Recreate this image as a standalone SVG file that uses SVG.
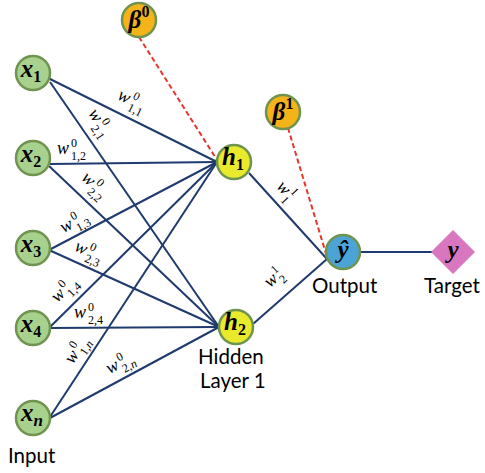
<svg xmlns="http://www.w3.org/2000/svg" width="485" height="473" viewBox="0 0 485 473">
<style>
.e{stroke:#1f3a6e;stroke-width:2;fill:none}
.b{stroke:#e8342a;stroke-width:2;stroke-dasharray:5,3;fill:none}
.n{stroke:#6f9450;stroke-width:2.5}
.in{fill:#a9d18e}
.hd{fill:#eaea2c}
.bi{fill:#f5b31a}
.ou{fill:#4ba3d6}
.lab{font-family:"Liberation Serif",serif;font-style:italic;font-weight:bold;font-size:25px;fill:#000}
.d{font-style:normal;font-size:16px}
.di{font-style:italic;font-size:17px}
.w{font-family:"Liberation Serif",serif;font-style:italic;font-size:18px;fill:#000}
.s{font-size:12px;font-style:normal}
.si{font-style:italic}
.t{font-family:Lato,"Liberation Sans",sans-serif;font-size:20.5px;fill:#000}
</style>
<g id="connectors">
<line class="e" x1="48" y1="78" x2="217" y2="162"/>
<line class="e" x1="50" y1="82" x2="219" y2="327"/>
<line class="e" x1="50" y1="164" x2="217" y2="162"/>
<line class="e" x1="49" y1="166" x2="219" y2="327"/>
<line class="e" x1="49" y1="250" x2="217" y2="162"/>
<line class="e" x1="49" y1="250" x2="219" y2="327"/>
<line class="e" x1="49" y1="328" x2="217" y2="162"/>
<line class="e" x1="49" y1="328" x2="219" y2="327"/>
<line class="e" x1="48" y1="420" x2="217" y2="162"/>
<line class="e" x1="50" y1="418" x2="219" y2="327"/>
<line class="e" x1="249" y1="173" x2="327" y2="259"/>
<line class="e" x1="253" y1="324" x2="327" y2="259"/>
<line class="e" x1="360" y1="252" x2="432" y2="252"/>
<line class="b" x1="139" y1="37" x2="217" y2="160"/>
<line class="b" x1="288" y1="128" x2="327" y2="257"/>
</g>
<g id="weights">
<text class="w" transform="translate(130,103) rotate(26)" x="-14" y="2">w<tspan class="s" x="0" y="-5">0</tspan><tspan class="s" x="0" y="8">1,1</tspan></text>
<text class="w" transform="translate(97,124) rotate(57)" x="-14" y="2">w<tspan class="s" x="0" y="-5">0</tspan><tspan class="s" x="0" y="8">2,1</tspan></text>
<text class="w" transform="translate(72,152)" x="-15" y="2">w<tspan class="s" x="-1" y="-5">0</tspan><tspan class="s" x="-1" y="8">1,2</tspan></text>
<text class="w" transform="translate(92,187) rotate(44)" x="-14" y="2">w<tspan class="s" x="0" y="-5">0</tspan><tspan class="s" x="0" y="8">2,2</tspan></text>
<text class="w" transform="translate(75,225) rotate(-28)" x="-14" y="2">w<tspan class="s" x="0" y="-5">0</tspan><tspan class="s" x="0" y="8">1,3</tspan></text>
<text class="w" transform="translate(87,254) rotate(24)" x="-14" y="2">w<tspan class="s" x="0" y="-5">0</tspan><tspan class="s" x="0" y="8">2,3</tspan></text>
<text class="w" transform="translate(66,292) rotate(-45)" x="-14" y="2">w<tspan class="s" x="0" y="-5">0</tspan><tspan class="s" x="0" y="8">1,4</tspan></text>
<text class="w" transform="translate(89,316)" x="-15" y="2">w<tspan class="s" x="-1" y="-5">0</tspan><tspan class="s" x="-1" y="8">2,4</tspan></text>
<text class="w" transform="translate(79,352) rotate(-57)" x="-14" y="2">w<tspan class="s" x="0" y="-5">0</tspan><tspan class="s" x="0" y="8">1,<tspan class="si">n</tspan></tspan></text>
<text class="w" transform="translate(121,366) rotate(-28)" x="-14" y="2">w<tspan class="s" x="0" y="-5">0</tspan><tspan class="s" x="0" y="8">2,<tspan class="si">n</tspan></tspan></text>
<text class="w" transform="translate(284,193) rotate(48)" x="-10" y="2">w<tspan class="s" x="3" y="-5">1</tspan><tspan class="s" x="3" y="8">1</tspan></text>
<text class="w" transform="translate(276,280) rotate(-42)" x="-10" y="2">w<tspan class="s" x="3" y="-5">1</tspan><tspan class="s" x="3" y="8">2</tspan></text>
</g>
<g id="x1"><circle class="n in" cx="33" cy="73" r="17"/><text class="lab" x="31" y="77" text-anchor="middle">x<tspan class="d" dy="5">1</tspan></text></g>
<g id="x2"><circle class="n in" cx="33" cy="158" r="17"/><text class="lab" x="31" y="162" text-anchor="middle">x<tspan class="d" dy="5">2</tspan></text></g>
<g id="x3"><circle class="n in" cx="33" cy="248" r="17"/><text class="lab" x="31" y="252" text-anchor="middle">x<tspan class="d" dy="5">3</tspan></text></g>
<g id="x4"><circle class="n in" cx="33" cy="328" r="17"/><text class="lab" x="31" y="332" text-anchor="middle">x<tspan class="d" dy="5">4</tspan></text></g>
<g id="xn"><circle class="n in" cx="33" cy="418" r="17"/><text class="lab" x="32" y="421" text-anchor="middle">x<tspan class="di" dy="5">n</tspan></text></g>
<g id="beta0"><circle class="n bi" cx="139" cy="20" r="17"/><text class="lab" x="139" y="28" text-anchor="middle">β<tspan class="d" dy="-11">0</tspan></text></g>
<g id="beta1"><circle class="n bi" cx="283" cy="112" r="17"/><text class="lab" x="283" y="120" text-anchor="middle">β<tspan class="d" dy="-11">1</tspan></text></g>
<g id="h1"><circle class="n hd" cx="234" cy="162" r="17"/><text class="lab" x="233" y="165" text-anchor="middle">h<tspan class="d" dy="5">1</tspan></text></g>
<g id="h2"><circle class="n hd" cx="236" cy="327" r="17"/><text class="lab" x="235" y="330" text-anchor="middle">h<tspan class="d" dy="5">2</tspan></text></g>
<g id="yhat"><circle class="n ou" cx="343" cy="252" r="17"/><text class="lab" x="343" y="258" text-anchor="middle" font-size="27">ŷ</text></g>
<g id="target"><polygon points="453,230 475,252 453,274 431,252" fill="#d877bf"/><text class="lab" x="453" y="258" text-anchor="middle">y</text></g>
<g id="labels">
<text class="t" x="8" y="463">Input</text>
<text class="t" x="198" y="364">Hidden</text>
<text class="t" x="200" y="388">Layer 1</text>
<text class="t" x="312" y="293">Output</text>
<text class="t" x="424" y="293">Target</text>
</g>
</svg>
